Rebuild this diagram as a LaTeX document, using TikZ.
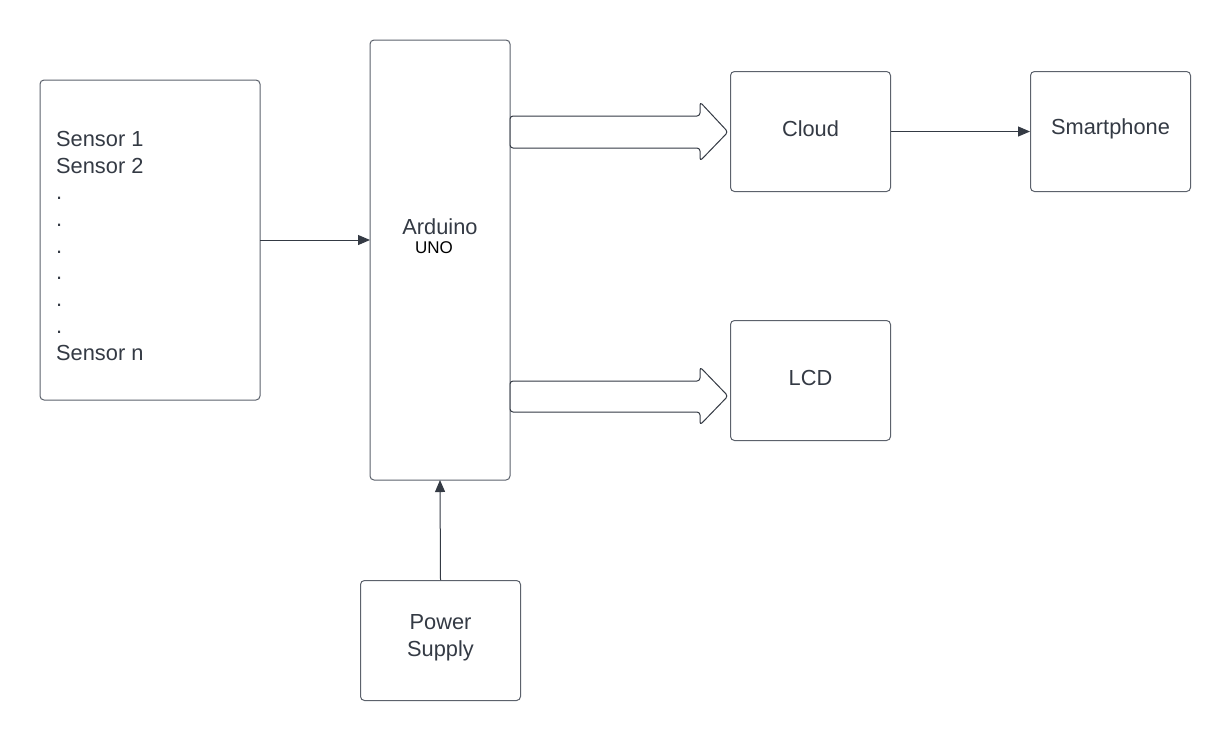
\documentclass[tikz,border=0pt]{standalone}
\usepackage{fontspec}
\setmainfont{Liberation Sans}
\usetikzlibrary{arrows.meta}
\definecolor{ink}{RGB}{52,58,68}
\definecolor{edge}{RGB}{92,98,108}
\begin{document}
\begin{tikzpicture}[x=1pt,y=-1pt,
  box/.style={draw=edge,line width=1pt,rounded corners=4pt,fill=white},
  lbl/.style={text=ink,font=\fontsize{21.8}{27}\selectfont,align=center,inner sep=0pt},
  conn/.style={draw=ink,line width=1pt,-{Triangle[length=12pt,width=10pt]}},
  blk/.style={draw=ink,line width=1pt,rounded corners=3pt,fill=white,line join=round}]
\useasboundingbox[fill=white] (0,0) rectangle (1230,740);
% boxes
\draw[box] (40,80) rectangle (260,400);
\coordinate (sensR) at (260,240);
\draw[box] (370,40) rectangle (510,480);
\coordinate (ardL) at (370,240);
\coordinate (ardB) at (440,480);
\node[box,minimum width=160pt,minimum height=120pt,anchor=north west] (cloud) at (730,71) {};
\node[lbl] at ([yshift=3pt]cloud.center) {Cloud};
\node[box,minimum width=160pt,minimum height=120pt,anchor=north west] (phone) at (1030,71) {};
\node[lbl] at ([yshift=3pt]phone.center) {Smartphone};
\node[box,minimum width=160pt,minimum height=120pt,anchor=north west] (lcd) at (730,320) {};
\node[lbl] at ([yshift=3pt]lcd.center) {LCD};
\node[box,minimum width=160pt,minimum height=120pt,anchor=north west] (power) at (360,580) {};
\node[lbl] at ([yshift=3pt]power.center) {Power\\Supply};
% sensor text
\node[lbl,align=left,anchor=north west,font=\fontsize{21.8}{26.7}\selectfont] (sens) at (56,131)
 {Sensor 1\\Sensor 2\\.\\.\\.\\.\\.\\.\\Sensor n};
% arduino text
\node[lbl] (ard) at (440,227) {Arduino};
\node[text=black,inner sep=0pt,font=\fontsize{17}{20}\selectfont] (uno) at (434,248) {UNO};
% connectors
\draw[conn] (sensR) -- (ardL);
\draw[conn] (cloud.east) -- (phone.west);
\draw[conn] (power.north) -- (ardB);
% block arrows
\draw[blk] (510,116) -- (700,116) -- (700,102) -- (728,132) -- (700,161) -- (700,148) -- (510,148) -- cycle;
\draw[blk] (510,381) -- (700,381) -- (700,367) -- (728,396) -- (700,425) -- (700,412) -- (510,412) -- cycle;
\end{tikzpicture}
\end{document}
